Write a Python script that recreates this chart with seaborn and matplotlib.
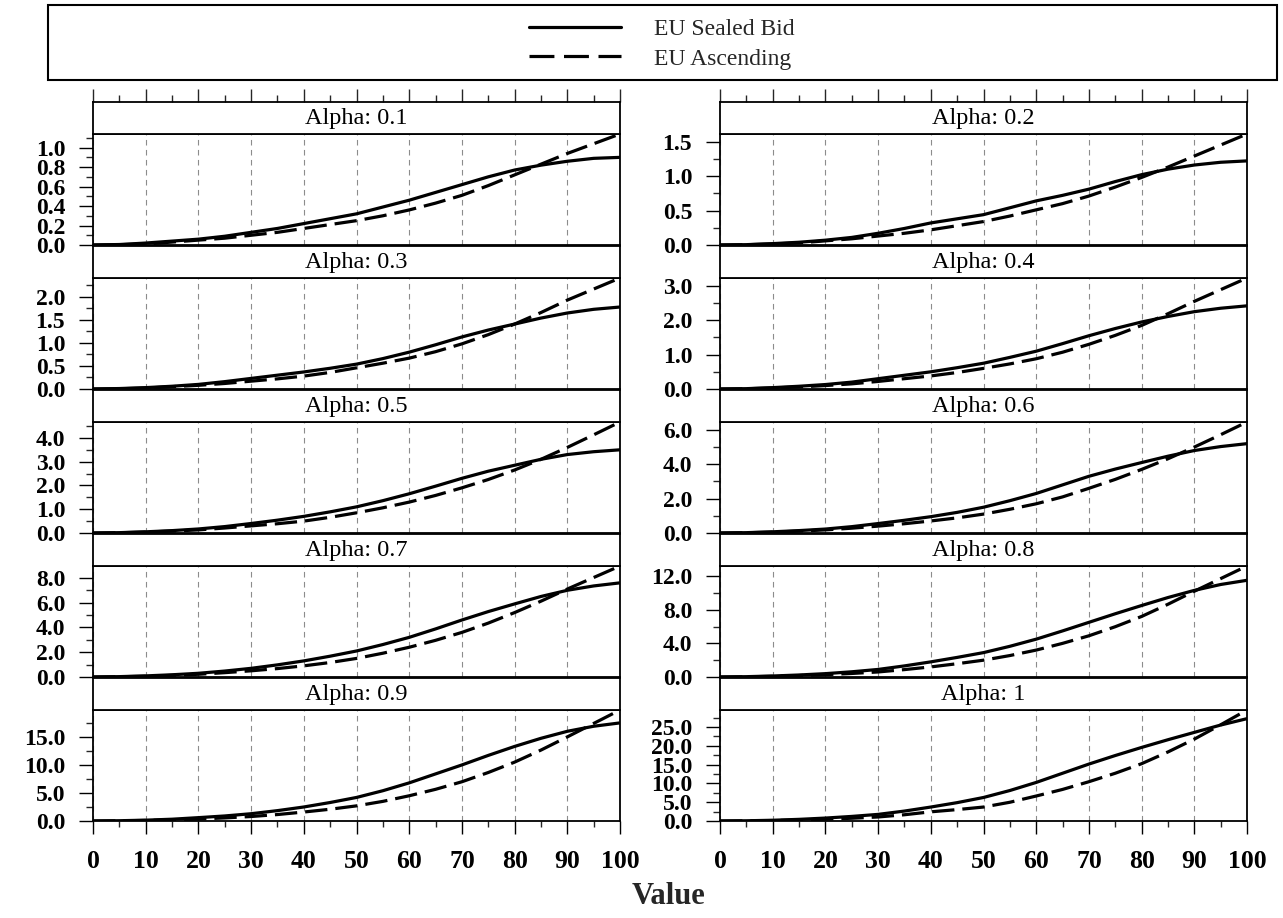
import matplotlib
matplotlib.use("Agg")
import matplotlib.pyplot as plt
from matplotlib.lines import Line2D
from matplotlib.patches import Rectangle
from matplotlib.ticker import MultipleLocator, FormatStrFormatter
import seaborn as sns
import pandas as pd

# x grid of the curves
value = list(range(0, 101, 5))
alphas = ["0.1", "0.2", "0.3", "0.4", "0.5", "0.6", "0.7", "0.8", "0.9", "1"]

# expected utility, sealed bid (solid) / ascending (dashed)
sealed_01 = [0, 0.005, 0.02, 0.04, 0.06, 0.09, 0.13, 0.17, 0.22, 0.27, 0.32, 0.39, 0.46, 0.54, 0.62, 0.70, 0.77, 0.82, 0.86, 0.89, 0.90]
asc_01 = [0, 0.003, 0.01, 0.03, 0.05, 0.07, 0.10, 0.13, 0.17, 0.21, 0.25, 0.30, 0.36, 0.43, 0.51, 0.61, 0.72, 0.83, 0.94, 1.04, 1.14]
sealed_02 = [0, 0.005, 0.02, 0.04, 0.07, 0.11, 0.17, 0.24, 0.32, 0.38, 0.44, 0.54, 0.64, 0.72, 0.81, 0.92, 1.02, 1.10, 1.16, 1.20, 1.22]
asc_02 = [0, 0.004, 0.015, 0.03, 0.06, 0.09, 0.13, 0.17, 0.22, 0.28, 0.34, 0.42, 0.51, 0.60, 0.71, 0.84, 0.98, 1.13, 1.29, 1.45, 1.61]
sealed_03 = [0, 0.01, 0.03, 0.06, 0.10, 0.16, 0.23, 0.30, 0.37, 0.45, 0.54, 0.66, 0.80, 0.96, 1.13, 1.28, 1.41, 1.54, 1.65, 1.73, 1.78]
asc_03 = [0, 0.005, 0.02, 0.05, 0.08, 0.12, 0.17, 0.22, 0.28, 0.36, 0.46, 0.56, 0.67, 0.81, 0.98, 1.18, 1.41, 1.66, 1.93, 2.17, 2.41]
sealed_04 = [0, 0.01, 0.04, 0.08, 0.13, 0.20, 0.30, 0.40, 0.50, 0.62, 0.75, 0.92, 1.10, 1.32, 1.55, 1.76, 1.95, 2.11, 2.25, 2.35, 2.42]
asc_04 = [0, 0.007, 0.03, 0.06, 0.10, 0.15, 0.22, 0.30, 0.38, 0.48, 0.60, 0.73, 0.88, 1.07, 1.30, 1.56, 1.85, 2.19, 2.55, 2.89, 3.23]
sealed_05 = [0, 0.015, 0.05, 0.10, 0.17, 0.27, 0.40, 0.54, 0.70, 0.89, 1.10, 1.36, 1.65, 1.97, 2.30, 2.60, 2.85, 3.10, 3.30, 3.42, 3.50]
asc_05 = [0, 0.01, 0.04, 0.08, 0.13, 0.21, 0.30, 0.39, 0.50, 0.66, 0.85, 1.06, 1.30, 1.58, 1.90, 2.25, 2.65, 3.10, 3.60, 4.13, 4.67]
sealed_06 = [0, 0.02, 0.07, 0.14, 0.23, 0.37, 0.55, 0.74, 0.95, 1.20, 1.50, 1.88, 2.30, 2.80, 3.30, 3.72, 4.10, 4.47, 4.80, 5.03, 5.20]
asc_06 = [0, 0.015, 0.05, 0.11, 0.18, 0.28, 0.40, 0.54, 0.70, 0.88, 1.10, 1.38, 1.70, 2.10, 2.60, 3.12, 3.70, 4.32, 5.00, 5.72, 6.46]
sealed_07 = [0, 0.03, 0.09, 0.18, 0.30, 0.48, 0.70, 0.98, 1.30, 1.68, 2.10, 2.62, 3.20, 3.88, 4.60, 5.28, 5.90, 6.50, 7.00, 7.35, 7.60]
asc_07 = [0, 0.02, 0.06, 0.13, 0.22, 0.35, 0.50, 0.68, 0.90, 1.17, 1.50, 1.92, 2.40, 2.96, 3.60, 4.35, 5.20, 6.12, 7.10, 8.03, 8.96]
sealed_08 = [0, 0.04, 0.12, 0.24, 0.40, 0.62, 0.90, 1.32, 1.80, 2.33, 2.90, 3.65, 4.50, 5.48, 6.50, 7.52, 8.50, 9.45, 10.30, 11.00, 11.50]
asc_08 = [0, 0.02, 0.08, 0.17, 0.28, 0.42, 0.60, 0.88, 1.20, 1.58, 2.00, 2.55, 3.20, 4.00, 4.90, 5.98, 7.20, 8.65, 10.20, 11.70, 13.20]
sealed_09 = [0, 0.05, 0.15, 0.32, 0.60, 0.90, 1.30, 1.85, 2.50, 3.30, 4.20, 5.40, 6.80, 8.40, 10.00, 11.70, 13.30, 14.75, 16.00, 16.90, 17.50]
asc_09 = [0, 0.03, 0.10, 0.20, 0.35, 0.55, 0.80, 1.15, 1.60, 2.10, 2.70, 3.50, 4.50, 5.65, 7.00, 8.65, 10.50, 12.65, 15.00, 17.40, 19.80]
sealed_10 = [0, 0.06, 0.20, 0.44, 0.78, 1.22, 1.76, 2.64, 3.71, 4.88, 6.25, 8.10, 10.25, 12.69, 15.13, 17.40, 19.55, 21.60, 23.55, 25.50, 27.20]
asc_10 = [0, 0.04, 0.12, 0.27, 0.49, 0.73, 1.07, 1.66, 2.44, 3.03, 3.71, 4.98, 6.64, 8.39, 10.44, 12.69, 15.23, 18.35, 21.76, 25.57, 29.50]

sealed = [sealed_01, sealed_02, sealed_03, sealed_04, sealed_05,
          sealed_06, sealed_07, sealed_08, sealed_09, sealed_10]
ascending = [asc_01, asc_02, asc_03, asc_04, asc_05,
             asc_06, asc_07, asc_08, asc_09, asc_10]

# labelled y tick step of each panel
y_steps = [0.2, 0.5, 0.5, 1, 1, 2, 2, 4, 5, 5]

rows = []
for a, s, d in zip(alphas, sealed, ascending):
    for v, ys, yd in zip(value, s, d):
        rows.append((a, v, ys, "EU Sealed Bid"))
        rows.append((a, v, yd, "EU Ascending"))
df = pd.DataFrame(rows, columns=["alpha", "Value", "EU", "series"])

sns.set_theme(style="white")
plt.rcParams["font.family"] = ["Liberation Serif", "DejaVu Serif"]
plt.rcParams["font.weight"] = "bold"

W, H = 1283, 918
fig = plt.figure(figsize=(W / 100, H / 100), dpi=100)

col_x = [93, 720]
pw = 527
dash = (7, 2.5)

for i, a in enumerate(alphas):
    r, c = divmod(i, 2)
    strip_top = 102 + 144 * r
    panel_top = 134 + 144 * r
    panel_bot = 245 + 144 * r
    x0 = col_x[c] / W

    ax = fig.add_axes([x0, 1 - panel_bot / H, pw / W, (panel_bot - panel_top) / H])
    sub = df[df["alpha"] == a]
    sns.lineplot(data=sub, x="Value", y="EU", style="series",
                 style_order=["EU Sealed Bid", "EU Ascending"],
                 dashes={"EU Sealed Bid": "", "EU Ascending": dash},
                 color="black", linewidth=2.3, legend=False, ax=ax)
    ax.set_xlabel("")
    ax.set_ylabel("")
    ax.set_xlim(0, 100)
    ax.set_ylim(0, max(ascending[i]))

    ax.xaxis.set_major_locator(MultipleLocator(10))
    ax.xaxis.set_minor_locator(MultipleLocator(5))
    ax.yaxis.set_major_locator(MultipleLocator(y_steps[i]))
    ax.yaxis.set_minor_locator(MultipleLocator(y_steps[i] / 2))
    ax.yaxis.set_major_formatter(FormatStrFormatter("%.1f"))
    ax.grid(axis="x", which="major", color="#8c8c8c", lw=0.8, ls=(0, (5, 4)))
    ax.grid(axis="y", visible=False)

    ax.tick_params(axis="y", which="major", left=True, direction="out",
                   length=10, width=1, labelsize=17, pad=10, colors="black")
    ax.tick_params(axis="y", which="minor", left=True, direction="out",
                   length=5, width=1)
    if r == 4:
        ax.tick_params(axis="x", which="major", bottom=True, direction="out",
                       length=9, width=1, labelsize=18.5, pad=12, colors="black")
        ax.tick_params(axis="x", which="minor", bottom=True, direction="out",
                       length=4.5, width=1)
    else:
        ax.tick_params(axis="x", which="both", bottom=False, labelbottom=False)
    for sp in ax.spines.values():
        sp.set_color("black")
        sp.set_linewidth(1.3)

    # strip with the panel title
    sax = fig.add_axes([x0, 1 - panel_top / H, pw / W, (panel_top - strip_top) / H])
    sax.set_xlim(0, 100)
    sax.set_yticks([])
    sax.set_facecolor("white")
    for sp in sax.spines.values():
        sp.set_color("black")
        sp.set_linewidth(1.3)
    sax.text(0.5, 0.48, f"Alpha: {a}", transform=sax.transAxes, ha="center",
             va="center", fontsize=17.5, fontweight="normal", color="black")
    if r == 0:
        sax.xaxis.tick_top()
        sax.xaxis.set_major_locator(MultipleLocator(10))
        sax.xaxis.set_minor_locator(MultipleLocator(5))
        sax.tick_params(axis="x", which="major", top=True, bottom=False,
                        labeltop=False, direction="out", length=9.5, width=1)
        sax.tick_params(axis="x", which="minor", top=True, bottom=False,
                        direction="out", length=5, width=1)
    else:
        sax.set_xticks([])

# legend in a framed box across the top
fig.patches.append(Rectangle((48 / W, 1 - 80 / H), (1277 - 48) / W, 75 / H,
                             transform=fig.transFigure, fill=False,
                             edgecolor="black", lw=1.5))
handles = [Line2D([], [], color="black", lw=2.3, label="EU Sealed Bid"),
           Line2D([], [], color="black", lw=2.3, ls=(0, (7.8, 3.0)), label="EU Ascending")]
fig.legend(handles=handles, loc="center", bbox_to_anchor=(662 / W, 1 - 44 / H),
           frameon=False, prop={"size": 17, "weight": "normal"},
           handlelength=3.9, handletextpad=1.4, labelspacing=0.35)

fig.text(668 / W, 1 - 897 / H, "Value", ha="center", va="center",
         fontsize=22, fontweight="bold")

fig.savefig("out.png", dpi=100)
